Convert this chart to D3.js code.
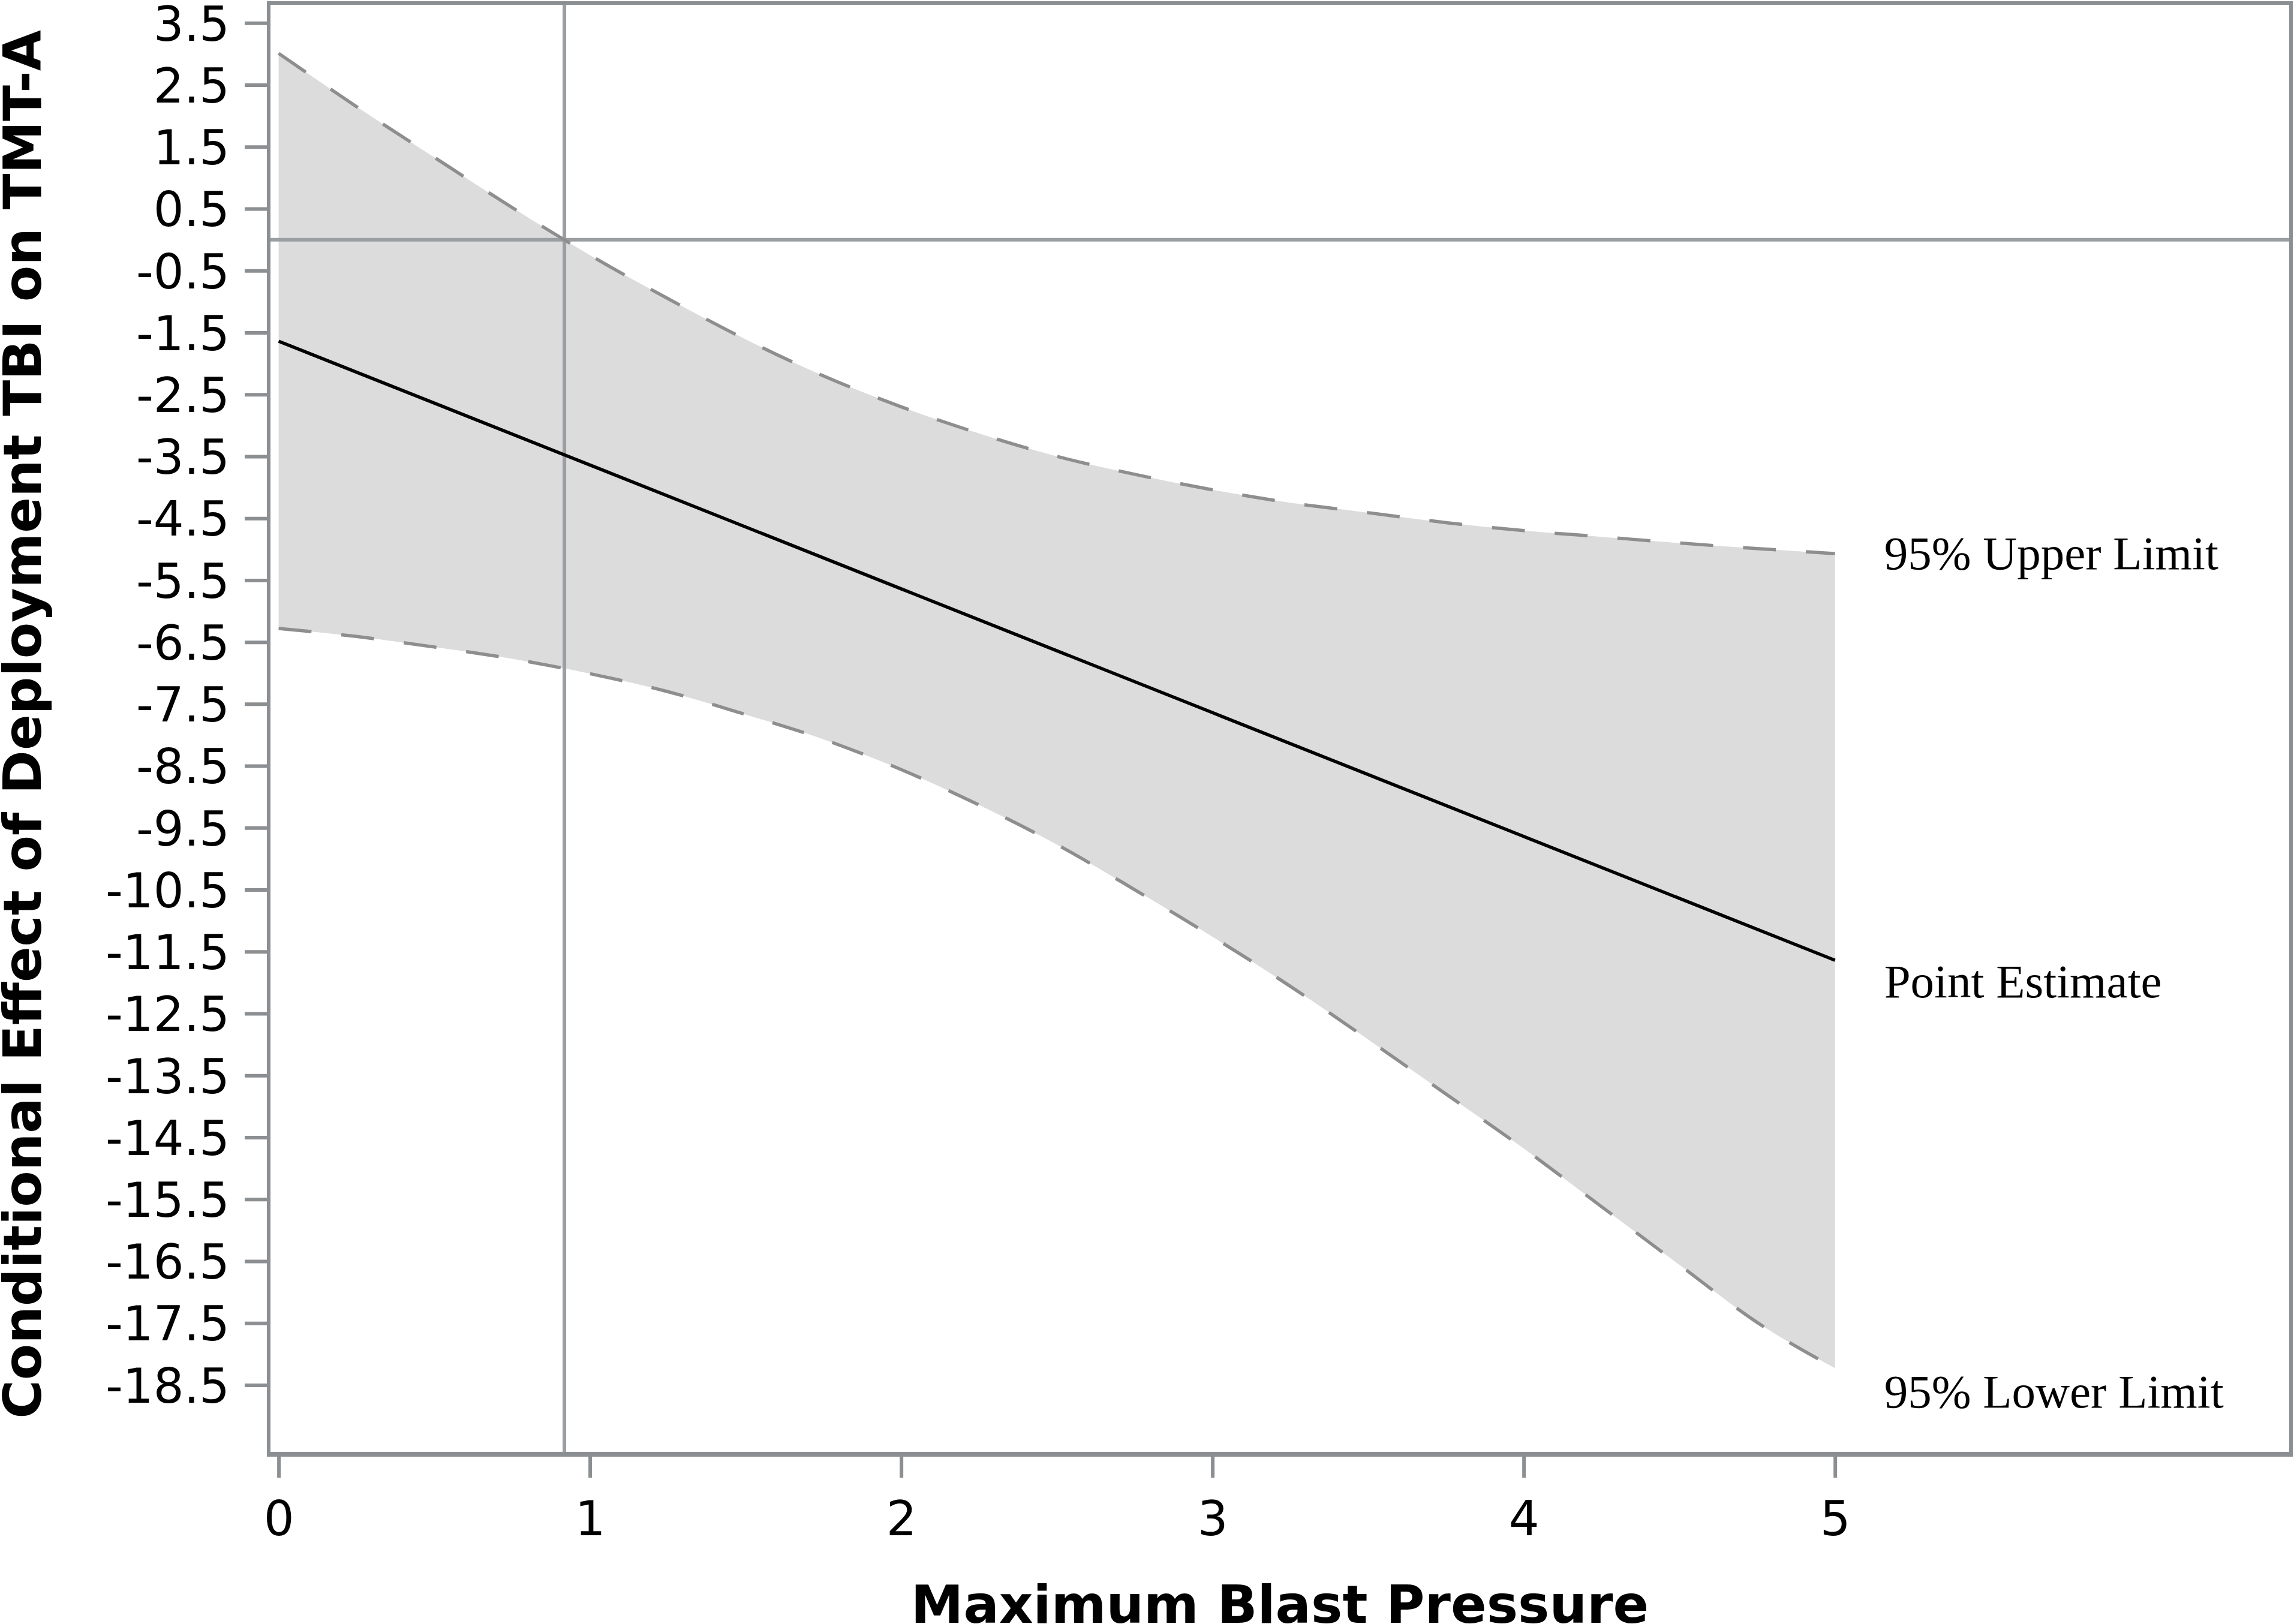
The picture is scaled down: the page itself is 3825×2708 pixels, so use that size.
<!DOCTYPE html>
<html>
<head>
<meta charset="utf-8">
<script src="https://cdn.jsdelivr.net/npm/d3@7"></script>
<style>
  html, body { margin: 0; padding: 0; background: #fff; }
  svg { display: block; }
</style>
</head>
<body>
<svg id="chart" width="3825" height="2708"></svg>
<script>
// ---- Data ----
const bandX = [0, 0.25, 0.5, 0.75, 1.0, 1.25, 1.5, 1.75, 2.0, 2.25, 2.5,
               2.75, 3.0, 3.25, 3.5, 3.75, 4.0, 4.25, 4.5, 4.75, 5.0];
const upperLimit = [3.01, 2.15, 1.33, 0.52, -0.25, -0.95, -1.61, -2.20, -2.70, -3.13, -3.50,
                    -3.79, -4.04, -4.25, -4.41, -4.57, -4.70, -4.80, -4.90, -4.99, -5.07];
const lowerLimit = [-6.28, -6.41, -6.58, -6.77, -7.01, -7.30, -7.67, -8.07, -8.56, -9.13, -9.77,
                    -10.50, -11.26, -12.06, -12.92, -13.80, -14.68, -15.62, -16.56, -17.49, -18.23];
const pointX = [0, 1, 2, 3, 4, 5];
const pointEstimate = [-1.64, -3.64, -5.64, -7.64, -9.64, -11.64];
const jnPoint = 0.918;          // vertical reference line (Johnson-Neyman point)
const zeroLine = 0;             // horizontal reference line
const yTickValues = [3.5, 2.5, 1.5, 0.5, -0.5, -1.5, -2.5, -3.5, -4.5, -5.5, -6.5, -7.5, -8.5,
                     -9.5, -10.5, -11.5, -12.5, -13.5, -14.5, -15.5, -16.5, -17.5, -18.5];
const xTickValues = [0, 1, 2, 3, 4, 5];
const xDomain = [-0.032, 6.465];
const yDomain = [-19.62, 3.823];
const labels = ["95% Upper Limit", "Point Estimate", "95% Lower Limit"];
const xTitle = "Maximum Blast Pressure";
const yTitle = "Conditional Effect of Deployment TBI on TMT-A";

// ---- Layout ----
const plot = { left: 448, top: 5, right: 3820, bottom: 2425 };
const frameColor = "#8c8f92";
const refColor = "#9b9fa2";
const svg = d3.select("#chart");

const x = d3.scaleLinear().domain(xDomain).range([plot.left, plot.right]);
const y = d3.scaleLinear().domain(yDomain).range([plot.bottom, plot.top]);

const band = bandX.map((d, i) => ({ x: d, lo: lowerLimit[i], hi: upperLimit[i] }));
const curve = d3.curveMonotoneX;

// Confidence band
svg.append("path")
  .datum(band)
  .attr("fill", "#dcdcdc")
  .attr("d", d3.area().curve(curve)
    .x(d => x(d.x)).y0(d => y(d.lo)).y1(d => y(d.hi)));

// Reference lines
svg.append("line")
  .attr("x1", plot.left).attr("x2", plot.right)
  .attr("y1", y(zeroLine)).attr("y2", y(zeroLine))
  .attr("stroke", refColor).attr("stroke-width", 6);
svg.append("line")
  .attr("x1", x(jnPoint)).attr("x2", x(jnPoint))
  .attr("y1", plot.top).attr("y2", plot.bottom)
  .attr("stroke", refColor).attr("stroke-width", 6);

// Dashed limits
const limitLine = d3.line().curve(curve).x(d => x(d.x));
svg.append("path").datum(band)
  .attr("fill", "none").attr("stroke", "#8e8e8e").attr("stroke-width", 5.5)
  .attr("stroke-dasharray", "55,50")
  .attr("d", limitLine.y(d => y(d.hi)));
svg.append("path").datum(band)
  .attr("fill", "none").attr("stroke", "#8e8e8e").attr("stroke-width", 5.5)
  .attr("stroke-dasharray", "55,50")
  .attr("d", d3.line().curve(curve).x(d => x(d.x)).y(d => y(d.lo)));

// Point estimate
svg.append("path")
  .datum(pointX.map((d, i) => ({ x: d, v: pointEstimate[i] })))
  .attr("fill", "none").attr("stroke", "#000").attr("stroke-width", 5.5)
  .attr("d", d3.line().x(d => x(d.x)).y(d => y(d.v)));

// Frame
svg.append("rect")
  .attr("x", plot.left).attr("y", plot.top)
  .attr("width", plot.right - plot.left).attr("height", plot.bottom - plot.top)
  .attr("fill", "none").attr("stroke", frameColor).attr("stroke-width", 6);
svg.append("line")
  .attr("x1", plot.left - 3).attr("x2", plot.right + 3)
  .attr("y1", plot.bottom).attr("y2", plot.bottom)
  .attr("stroke", frameColor).attr("stroke-width", 8);

// Y axis
const yAxis = svg.append("g")
  .attr("transform", `translate(${plot.left},0)`)
  .call(d3.axisLeft(y).tickValues(yTickValues).tickSize(40).tickPadding(25)
        .tickFormat(d => d.toFixed(1)));
yAxis.select(".domain").remove();
yAxis.selectAll(".tick line").attr("stroke", frameColor).attr("stroke-width", 6);
yAxis.selectAll(".tick text")
  .attr("font-family", "'DejaVu Sans', sans-serif").attr("font-size", 80)
  .attr("fill", "#000").attr("dy", "0.36em");

// X axis
const xAxis = svg.append("g")
  .attr("transform", `translate(0,${plot.bottom + 4})`)
  .call(d3.axisBottom(x).tickValues(xTickValues).tickSize(35).tickPadding(39)
        .tickFormat(d3.format("d")));
xAxis.select(".domain").remove();
xAxis.selectAll(".tick line").attr("stroke", frameColor).attr("stroke-width", 6);
xAxis.selectAll(".tick text")
  .attr("font-family", "'DejaVu Sans', sans-serif").attr("font-size", 80)
  .attr("fill", "#000");

// Titles
svg.append("text")
  .attr("x", (plot.left + plot.right) / 2).attr("y", 2706)
  .attr("text-anchor", "middle")
  .attr("font-family", "'DejaVu Sans', sans-serif").attr("font-weight", "bold")
  .attr("font-size", 88).attr("fill", "#000")
  .text(xTitle);
svg.append("text")
  .attr("transform", `translate(68,1208) rotate(-90)`)
  .attr("text-anchor", "middle")
  .attr("font-family", "'DejaVu Sans', sans-serif").attr("font-weight", "bold")
  .attr("font-size", 88).attr("fill", "#000")
  .text(yTitle);

// End labels
const last = bandX.length - 1;
const labelSpecs = [
  { text: labels[0], v: upperLimit[last], dy: 26 },
  { text: labels[1], v: pointEstimate[pointEstimate.length - 1], dy: 62 },
  { text: labels[2], v: lowerLimit[last], dy: 65 }
];
svg.selectAll(".endlabel").data(labelSpecs).enter().append("text")
  .attr("class", "endlabel")
  .attr("x", x(5) + 82)
  .attr("y", d => y(d.v) + d.dy)
  .attr("font-family", "'Liberation Serif', 'Times New Roman', serif")
  .attr("font-size", 79).attr("fill", "#000")
  .text(d => d.text);
</script>
</body>
</html>
